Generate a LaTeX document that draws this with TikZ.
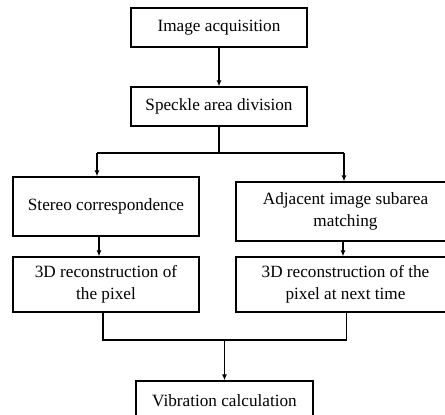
\documentclass[tikz,border=0pt]{standalone}
\usepackage{fontspec}
\setmainfont{Liberation Serif}
\usetikzlibrary{arrows.meta}
\begin{document}
\begin{tikzpicture}[x=1pt,y=-1pt,
  box/.style={draw,line width=1.2pt,align=center,inner sep=0pt,
    font=\fontsize{17.2}{21.5}\selectfont},
  conn/.style={line width=1.2pt},
  arr/.style={conn,-{Latex[length=6pt,width=5pt]}}]
\clip (0,0) rectangle (445,415);
\useasboundingbox (0,0) rectangle (445,415);
\node[box,minimum width=176pt,minimum height=39pt] (b1) at (219,27.5) {Image acquisition};
\node[box,minimum width=176pt,minimum height=39pt] (b2) at (219,106.5) {Speckle area division};
\node[box,minimum width=186pt,minimum height=59pt] (b3) at (106,206.5) {Stereo correspondence};
\node[box,minimum width=219pt,minimum height=59pt] (b4) at (345.5,211.5) {Adjacent image subarea\\matching};
\node[box,minimum width=186pt,minimum height=55pt] (b5) at (106,284.5) {3D reconstruction of\\the pixel};
\node[box,minimum width=219pt,minimum height=55pt] (b6) at (345.5,284.5) {3D reconstruction of the\\pixel at next time};
\node[box,minimum width=177pt,minimum height=39pt] (b7) at (224.5,400.5) {Vibration calculation};
\coordinate (sl) at (97,153);
\coordinate (sr) at (344,153);
\coordinate (ml) at (103,340);
\coordinate (mr) at (346.5,340);
\coordinate (mc) at (224.5,340);
\draw[arr] (b1) -- (b2);
\draw[conn] (b2.south) -- (b2.south |- sl);
\draw[conn] (sl) -- (sr);
\draw[arr] (sl) -- (sl |- b3.north);
\draw[arr] (sr) -- (sr |- b4.north);
\draw[arr] ([xshift=-7pt]b3.south) -- ([xshift=-7pt]b5.north);
\draw[arr] ([xshift=-2.5pt]b4.south) -- ([xshift=-2.5pt]b6.north);
\draw[conn] (ml |- b5.south) -- (ml) -- (mr) -- (mr |- b6.south);
\draw[arr] (mc) -- (b7.north);
\end{tikzpicture}
\end{document}
